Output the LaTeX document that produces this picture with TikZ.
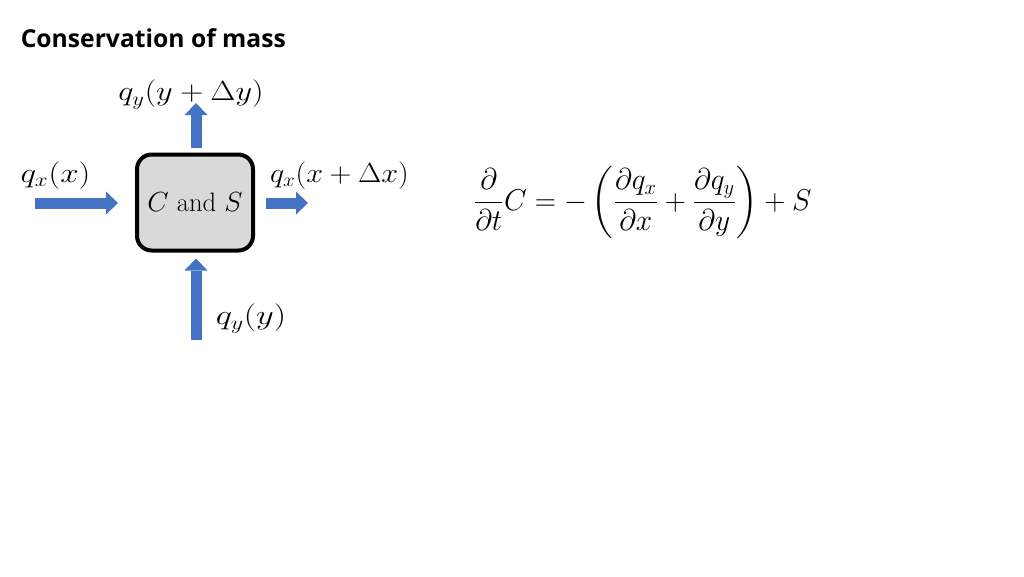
\documentclass[tikz,border=0pt]{standalone}
\usepackage{fontspec}
\usepackage{amsmath}
\newfontfamily\titlefont{Open Sans}
\usetikzlibrary{arrows.meta}
\definecolor{flowblue}{HTML}{4472C4}
\definecolor{cellgray}{HTML}{D9D9D9}
\newcommand{\widemath}[2][1.2]{\scalebox{#1}[1]{$#2$}}
\begin{document}
\begin{tikzpicture}[x=0.75pt, y=-0.75pt,
    flow/.style={line width=8.25pt, draw=flowblue,
      -{Triangle[length=9pt, width=17.25pt, line width=0pt]}},
    lab/.style={inner sep=0pt, font=\fontsize{20}{24}\selectfont}]
    % page frame, pixel coordinates
    \path[use as bounding box, fill=white] (0,0) rectangle (1024,576);

    \node[anchor=base west, inner sep=0pt, font=\titlefont\bfseries\fontsize{18.5}{22}\selectfont] (title) at (20.5,47) {Conservation of mass};

    % the control volume
    \node[draw=black, line width=3pt, fill=cellgray, rounded corners=11pt,
      minimum width=87pt, minimum height=72pt, inner sep=0pt,
      font=\fontsize{20}{24}\selectfont] (cv) at (195,202.5) {$C$ and $S$};

    % fluxes in and out
    \coordinate (inx) at (35,203);
    \coordinate (outx) at (308,203);
    \coordinate (outy) at (196,103);
    \coordinate (iny) at (196,340);
    \draw[flow, shorten >=12.75pt] (inx) -- (inx -| cv.west);
    \draw[flow, shorten <=8.25pt] (cv.east |- outx) -- (outx);
    \draw[flow, shorten <=3.75pt] (cv.north -| outy) -- (outy);
    \draw[flow, shorten >=4.5pt] (iny) -- (iny |- cv.south);

    \node[lab] (qxin) at (55.5,175.5) {\widemath{q_x(x)}};
    \node[lab] (qxout) at (339.5,175.5) {\widemath[1.09]{q_x(x+\Delta x)}};
    \node[lab] (qyout) at (191,94.5) {\widemath[1.17]{q_y(y+\Delta y)}};
    \node[lab] (qyin) at (251,318.5) {\widemath[1.25]{q_y(y)}};

    % balance equation
    \node[inner sep=0pt, font=\fontsize{22}{26}\selectfont] (balance) at (642.5,202.5)
      {\scalebox{1.06}[1.09]{$\displaystyle \frac{\partial}{\partial t}C = -\left(\frac{\partial q_x}{\partial x}+\frac{\partial q_y}{\partial y}\right)+S$}};
\end{tikzpicture}
\end{document}
